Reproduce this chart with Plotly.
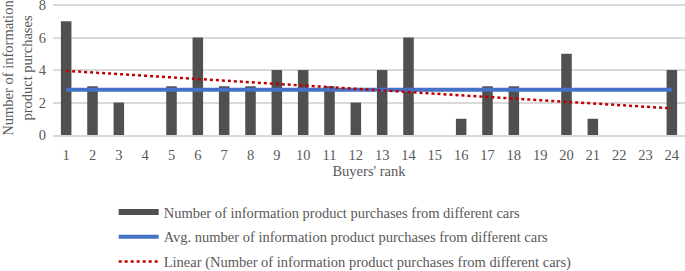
import plotly.graph_objects as go

ranks = [str(i) for i in range(1, 25)]
purchases = [7, 3, 2, 0, 3, 6, 3, 3, 4, 4, 3, 2, 4, 6, 0, 1, 3, 3, 0, 5, 1, 0, 0, 4]
avg_value = [2.79] * 24
trend_ends = [3.95, 1.64]
trend_x = [ranks[0], ranks[-1]]

bar_name = "Number of information product purchases from different cars"
avg_name = "Avg. number of information product purchases from different cars"
trend_name = "Linear (Number of information product purchases from different cars)"

font_family = "Liberation Serif, 'Times New Roman', Times, serif"
txt = "#595959"
fs = 14.5
bar_color = "#505050"

fig = go.Figure()
fig.add_trace(go.Bar(x=ranks, y=purchases, name=bar_name, legendgroup="a", showlegend=False,
                     marker=dict(color=bar_color, line=dict(width=0)), width=0.4))
# legend swatch for the bar series (wide rectangle as in the original)
fig.add_trace(go.Scatter(x=[None], y=[None], name=bar_name, mode="lines", legendgroup="a",
                         line=dict(color=bar_color, width=6)))
fig.add_trace(go.Scatter(x=ranks, y=avg_value, name=avg_name, mode="lines", legendgroup="b",
                         line=dict(color="#4472C4", width=4)))
fig.add_trace(go.Scatter(x=trend_x, y=trend_ends, name=trend_name, mode="lines", legendgroup="c",
                         line=dict(color="#C00000", width=2.5, dash="dot")))

fig.update_layout(
    width=685, height=271,
    margin=dict(l=53, r=0, t=1, b=136, autoexpand=False),
    plot_bgcolor="white", paper_bgcolor="white",
    font=dict(family=font_family, size=fs, color=txt),
    showlegend=True,
    legend=dict(x=0.096, xanchor="left", y=-0.455, yanchor="top",
                font=dict(family=font_family, size=fs, color=txt), tracegroupgap=3,
                itemwidth=40, bgcolor="rgba(0,0,0,0)"),
)
fig.update_xaxes(type="category", showgrid=False, showline=True, linecolor="#d9d9d9",
                 linewidth=1.5, ticks="", automargin=False, ticklabelstandoff=6,
                 tickfont=dict(family=font_family, size=fs, color=txt),
                 title=dict(text="Buyers' rank", font=dict(family=font_family, size=fs, color=txt),
                            standoff=4))
fig.update_yaxes(range=[0, 8.25], tickvals=[0, 2, 4, 6, 8], showgrid=True, gridcolor="#d9d9d9",
                 gridwidth=1.5, zeroline=False, showline=False, ticks="", automargin=False,
                 ticklabelstandoff=6, ticklabeloverflow="allow",
                 tickfont=dict(family=font_family, size=fs, color=txt),
                 title=dict(text="Number of information<br>product purchases",
                            font=dict(family=font_family, size=fs, color=txt), standoff=6))

fig.write_html("out.html", config={"displayModeBar": False},
               post_script="document.body.style.margin='0';document.body.style.overflow='hidden';")
